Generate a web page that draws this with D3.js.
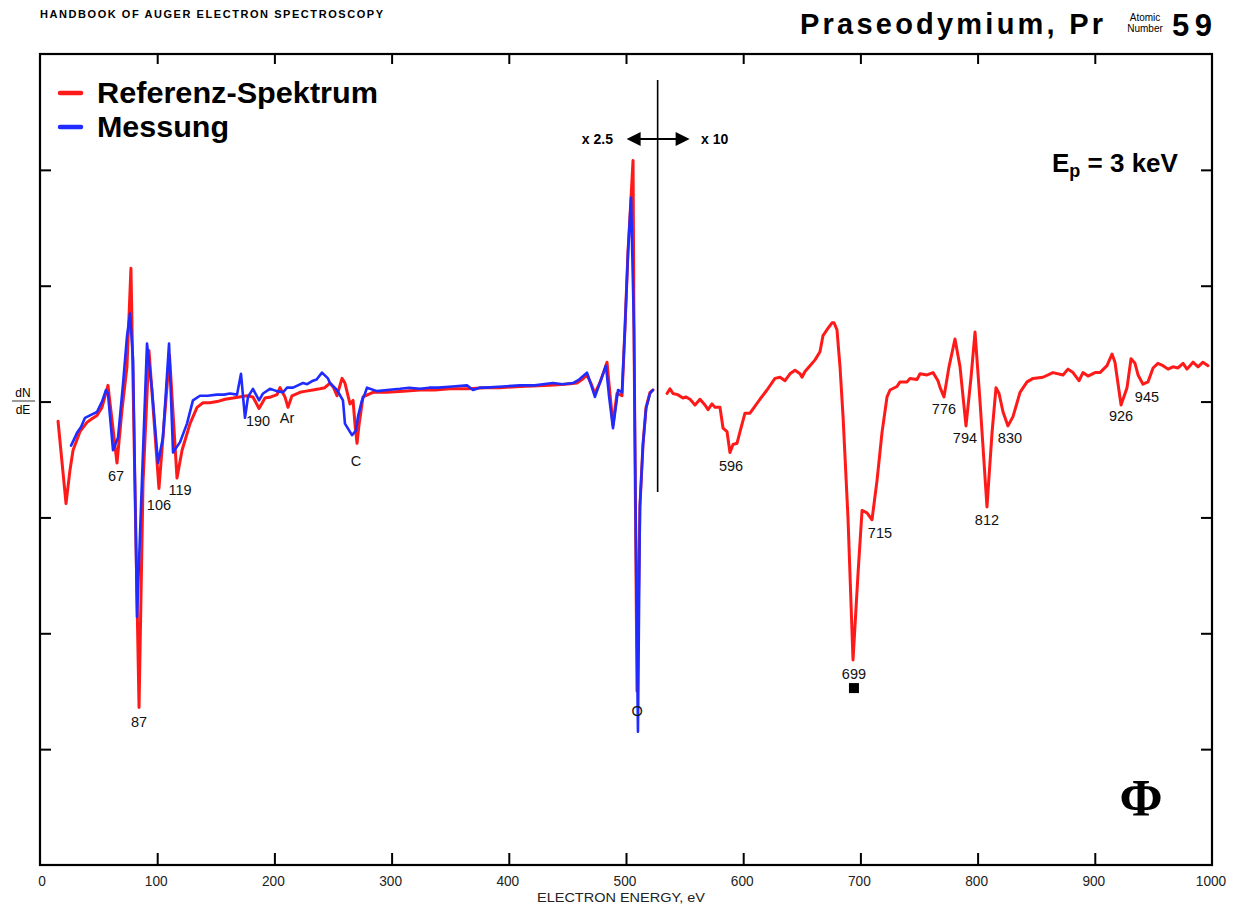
<!DOCTYPE html>
<html><head><meta charset="utf-8">
<script src="https://cdn.jsdelivr.net/npm/d3@7"></script>
<style>body{margin:0;background:#fff}svg{display:block}</style>
</head><body>
<svg id="c" width="1233" height="907"></svg>
<script>
// ---------- data ----------
const xTickValues = [0,100,200,300,400,500,600,700,800,900,1000];
const xTickLabels = ["0","100","200","300","400","500","600","700","800","900","1000"];
const yTickValues = [-300,-200,-100,0,100,200];

// Referenz-Spektrum, part below the gain change (x2.5)
const refLow = [
[15.4,-17],[22.2,-88],[25.6,-59],[28.2,-42],[34.1,-26],[40.1,-18],[44.0,-15],[48.6,-12],[52.9,-5],[58.0,14],
[65.7,-53],[70.0,-7],[74.2,30],[77.6,115],[84.5,-264],[87.9,-70],[93.0,44],[101.5,-75],[104.9,-31],
[110.5,40],[116.9,-66],[121.2,-42],[128.0,-19],[134.0,-5],[139.1,-1],[145.0,-1],[151.0,0],[158.0,2],[164.7,3],[170.0,4],[176.6,5],
[181.7,4],[186.9,-6],[192.0,3],[197.0,4],[202.2,6],[204.8,12],[209.0,4],[211.6,-5],[215.0,5],[221.8,8],
[227.0,9],[232.9,10],[238.9,11],[243.0,12],[247.4,16],[250.5,12],[253.4,5],[257.7,20],[260.2,16],[264.5,-2],[267.1,1],[268.8,-20],
[270.5,-36],[272.2,-20],[275.6,4],[284.1,8],[296.1,8],[310.0,9],[324.2,10],[337.0,10],[349.8,11],[365.0,11],[380.0,12],[392.5,12],[410.0,13],[435.2,14],
[448.0,15],[458.2,16],[462.5,19],[466.7,23],[470.0,16],[473.5,7],[478.0,17],[483.8,34],[486.0,10],[488.9,-20],[492.3,7],[494.9,6],[496.6,5],[499.1,63],
[501.7,129],[504.3,176],[506.0,208],[506.8,63],[509.4,-250],[511.9,-90],[514.5,-37],[517.1,-5],
[520.5,8],[523.0,10]
];
// Referenz-Spektrum, part above the gain change (x10)
const refHigh = [
[535.0,7],[537.5,11],[540.1,7],[544.0,6],[548.6,3],[551.0,4],[554.6,2],[558.9,-3],[563.1,2],[567.4,-3],[570.0,-7],
[573.4,-2],[576.0,-5],[580.2,-5],[582.8,-23],[586.2,-26],[588.7,-44],[591.3,-37],[594.7,-36],
[597.3,-26],[601.5,-10],[605.8,-10],[610.1,-4],[614.3,2],[620.3,10],[627.1,20],[631.4,21],
[635.7,18],[639.9,24],[644.2,27],[648.5,24],[650.2,21],[652.7,26],[657.0,31],[661.3,36],[665.5,43],
[668.1,57],[671.5,62],[675.8,68],[677.5,68],[680.0,62],[682.6,30],[685.2,-13],[689.4,-100],
[693.7,-223],[698.0,-148],[701.4,-94],[705.6,-96],[709.9,-102],[714.2,-68],[718.4,-27],[722.7,4],
[725.3,10],[731.2,13],[733.8,17],[739.8,17],[742.3,20],[748.3,19],[750.9,24],[756.8,23],[762.0,25],
[766.2,18],[768.0,12],[771.3,4],[775.6,30],[780.7,54],[785.0,30],[790.1,-21],[794.4,21],[797.8,60],
[802.0,1],[808.0,-91],[812.3,-27],[815.7,12],[818.3,7],[821.7,-9],[825.9,-21],[830.2,-13],[836.2,8],
[842.2,17],[847.3,20],[855.8,21],[864.3,25],[872.9,23],[877.1,28],[881.4,25],[886.5,18],[889.9,25],
[894.2,22],[900.2,25],[904.4,25],[910.4,31],[914.7,41],[917.2,34],[922.4,-3],[927.5,12],[930.9,37],
[934.3,33],[936.9,23],[941.1,15],[945.4,17],[949.7,29],[953.9,33],[958.2,31],[962.5,28],[966.7,30],
[971.0,29],[975.3,33],[978.7,28],[983.8,34],[988.1,30],[992.3,34],[996.6,31]
];
// Messung
const mess = [
[26.5,-38],[31.6,-27],[35.0,-22],[38.4,-14],[44.4,-11],[48.6,-9],[52.9,0],[56.3,10],[58.0,7],[62.3,-42],
[66.6,-31],[70.9,16],[74.2,56],[76.8,76],[79.4,36],[82.8,-186],[87.0,-68],[91.3,50],[95.6,10],
[100.7,-53],[104.9,-31],[110.1,50],[113.5,-44],[119.5,-35],[125.4,-19],[130.5,1],[136.5,5],
[143.0,5],[151.0,6],[157.0,6],[162.1,7],[168.1,6],[171.5,24],[174.9,-14],[177.5,4],[181.7,11],[186.9,1],[190.3,7],
[196.2,11],[202.0,9],[207.3,8],[210.8,12],[215.9,12],[220.0,14],[224.4,16],[228.0,15],[232.9,18],[236.0,19],[240.6,25],[245.7,20],[247.4,16],
[253.4,10],[258.5,1],[260.2,-19],[266.2,-29],[269.6,-25],[271.3,-13],[274.7,1],[277.3,7],[279.0,12],
[287.5,9],[296.1,10],[307.2,11],[315.0,12],[324.2,11],[332.0,12],[340.0,12],[352.0,13],[364.3,14],[369.5,10],[375.0,12],[380.0,12],[395.0,13],[409.6,14],
[422.0,14],[437.7,16],[446.0,15],[454.8,16],[460.0,19],[466.7,25],[470.0,15],[473.5,4],[478.0,17],[482.9,31],[485.5,5],[488.9,-23],[493.2,10],[496.6,8],[499.1,63],
[501.7,129],[504.3,176],[506.8,62],[508.5,-128],[510.2,-285],[511.9,-90],[514.5,-37],[517.1,-6],
[520.5,7],[523.0,10]
];

const peakLabels = [
{t:"67",e:64.8,v:-68.7},{t:"87",e:84.5,v:-281},{t:"106",e:101.5,v:-93.7},{t:"119",e:119.5,v:-80.8},
{t:"190",e:186,v:-21.2},{t:"Ar",e:210.8,v:-18.6},{t:"C",e:269.6,v:-55.7},{t:"O",e:509.4,v:-271.4},
{t:"596",e:589.6,v:-60},{t:"699",e:694.5,v:-239.5},{t:"715",e:716.7,v:-117.9},{t:"776",e:771.3,v:-10.9},
{t:"794",e:789.2,v:-35.9},{t:"812",e:808,v:-106.6},{t:"830",e:827.6,v:-35.9},{t:"926",e:922.4,v:-16.9},
{t:"945",e:944.5,v:-0.5}
];
const markerPeak = {e:694.5, v:-247.3};
const gainChange = 527;

// ---------- drawing ----------
const svg = d3.select("#c");
const L=40, R=1212, T=54, B=865;
const x = d3.scaleLinear().domain([0,1000]).range([L,R]);
const y = d3.scaleLinear().domain([-400,300]).range([B,T]);
const sans = "'Liberation Sans', Arial, Helvetica, sans-serif";

// header
svg.append("text").attr("x",40).attr("y",18).attr("font-family",sans).attr("font-weight","bold")
  .attr("font-size",11).attr("textLength",343).attr("lengthAdjust","spacing")
  .text("HANDBOOK OF AUGER ELECTRON SPECTROSCOPY");
svg.append("text").attr("x",800).attr("y",34).attr("font-family",sans).attr("font-weight","bold")
  .attr("font-size",29).attr("textLength",303).attr("lengthAdjust","spacing")
  .text("Praseodymium, Pr");
svg.append("text").attr("x",1145).attr("y",21).attr("text-anchor","middle").attr("font-family",sans)
  .attr("font-size",10).text("Atomic");
svg.append("text").attr("x",1145).attr("y",32).attr("text-anchor","middle").attr("font-family",sans)
  .attr("font-size",10).text("Number");
svg.append("text").attr("x",1172).attr("y",36).attr("font-family",sans).attr("font-weight","bold")
  .attr("font-size",31).attr("textLength",40).attr("lengthAdjust","spacing").text("59");

// frame
svg.append("rect").attr("x",L).attr("y",T).attr("width",R-L).attr("height",B-T)
  .attr("fill","none").attr("stroke","#000").attr("stroke-width",2.2);

// axes ticks (inward), built from d3 axes
const xb = svg.append("g").attr("transform",`translate(0,${B})`)
  .call(d3.axisTop(x).tickValues(xTickValues.slice(1,-1)).tickSize(12).tickFormat(""));
const xt = svg.append("g").attr("transform",`translate(0,${T})`)
  .call(d3.axisBottom(x).tickValues(xTickValues.slice(1,-1)).tickSize(10).tickFormat(""));
const yl = svg.append("g").attr("transform",`translate(${L},0)`)
  .call(d3.axisRight(y).tickValues(yTickValues).tickSize(11).tickFormat(""));
const yr = svg.append("g").attr("transform",`translate(${R},0)`)
  .call(d3.axisLeft(y).tickValues(yTickValues).tickSize(11).tickFormat(""));
[xb,xt,yl,yr].forEach(g=>{g.select(".domain").remove();g.selectAll("line").attr("stroke","#000").attr("stroke-width",2);});

// x tick labels (condensed look)
svg.append("g").selectAll("text").data(xTickValues).join("text")
  .attr("x",(d,i)=>i===0?x(d)+2:x(d)-1).attr("y",886).attr("text-anchor","middle").attr("font-family",sans)
  .attr("font-size",15).attr("fill","#222")
  .attr("textLength",(d,i)=>xTickLabels[i].length*7.6).attr("lengthAdjust","spacingAndGlyphs")
  .text((d,i)=>xTickLabels[i]);
svg.append("text").attr("x",621).attr("y",902).attr("text-anchor","middle").attr("font-family",sans)
  .attr("font-size",13).attr("fill","#222").attr("textLength",168).attr("lengthAdjust","spacingAndGlyphs")
  .text("ELECTRON ENERGY, eV");

// y label dN/dE
svg.append("text").attr("x",23).attr("y",397).attr("text-anchor","middle").attr("font-family",sans)
  .attr("font-size",12).text("dN");
svg.append("line").attr("x1",12).attr("x2",35).attr("y1",401).attr("y2",401).attr("stroke","#000").attr("stroke-width",0.8);
svg.append("text").attr("x",23).attr("y",414).attr("text-anchor","middle").attr("font-family",sans)
  .attr("font-size",12).text("dE");

// gain change marker
svg.append("line").attr("x1",x(gainChange)).attr("x2",x(gainChange)).attr("y1",80).attr("y2",492)
  .attr("stroke","#000").attr("stroke-width",1.6);
const ay=139;
svg.append("line").attr("x1",x(gainChange)-24).attr("x2",x(gainChange)+24).attr("y1",ay).attr("y2",ay)
  .attr("stroke","#000").attr("stroke-width",2);
svg.append("path").attr("d",`M${x(gainChange)-31},${ay} l14,-7 l0,14 z`).attr("fill","#000");
svg.append("path").attr("d",`M${x(gainChange)+32},${ay} l-14,-7 l0,14 z`).attr("fill","#000");
svg.append("text").attr("x",613).attr("y",144).attr("text-anchor","end").attr("font-family",sans)
  .attr("font-weight","bold").attr("font-size",14).text("x 2.5");
svg.append("text").attr("x",701).attr("y",144).attr("font-family",sans)
  .attr("font-weight","bold").attr("font-size",14).text("x 10");

// Ep label
const ep = svg.append("text").attr("x",1052).attr("y",172).attr("font-family",sans).attr("font-weight","bold").attr("font-size",26);
ep.append("tspan").text("E");
ep.append("tspan").attr("font-size",18).attr("dy",5).text("p");
ep.append("tspan").attr("dy",-5).text(" = 3 keV");

// Phi
svg.append("text").attr("x",1141).attr("y",816).attr("text-anchor","middle")
  .attr("font-family","'Liberation Serif','Times New Roman',serif").attr("font-weight","bold")
  .attr("font-size",52).text("Φ");

// curves
const line = d3.line().x(d=>x(d[0])).y(d=>y(d[1])).curve(d3.curveLinear);
const curves = svg.append("g").attr("fill","none").attr("stroke-linejoin","round").attr("stroke-linecap","round");
curves.append("path").datum(refLow).attr("d",line).attr("stroke","#ff1a1a").attr("stroke-width",3);
curves.append("path").datum(refHigh).attr("d",line).attr("stroke","#ff1a1a").attr("stroke-width",3);
curves.append("path").datum(mess).attr("d",line).attr("stroke","#1f2bff").attr("stroke-width",2.6);

// peak labels
svg.append("g").selectAll("text").data(peakLabels).join("text")
  .attr("x",d=>x(d.e)).attr("y",d=>y(d.v)).attr("text-anchor","middle").attr("font-family",sans)
  .attr("font-size",14.5).attr("fill","#111").text(d=>d.t);
svg.append("rect").attr("x",x(markerPeak.e)-5).attr("y",y(markerPeak.v)-5).attr("width",10).attr("height",10).attr("fill","#000");

// legend
const leg = [{t:"Referenz-Spektrum",c:"#ff1a1a",y:93,w:281},{t:"Messung",c:"#1f2bff",y:127,w:132}];
leg.forEach(d=>{
  svg.append("line").attr("x1",60).attr("x2",81).attr("y1",d.y).attr("y2",d.y).attr("stroke",d.c)
    .attr("stroke-width",4.5).attr("stroke-linecap","round");
  svg.append("text").attr("x",97).attr("y",d.y+10).attr("font-family",sans).attr("font-weight","bold")
    .attr("font-size",30).attr("textLength",d.w).attr("lengthAdjust","spacingAndGlyphs").text(d.t);
});
</script>
</body></html>
